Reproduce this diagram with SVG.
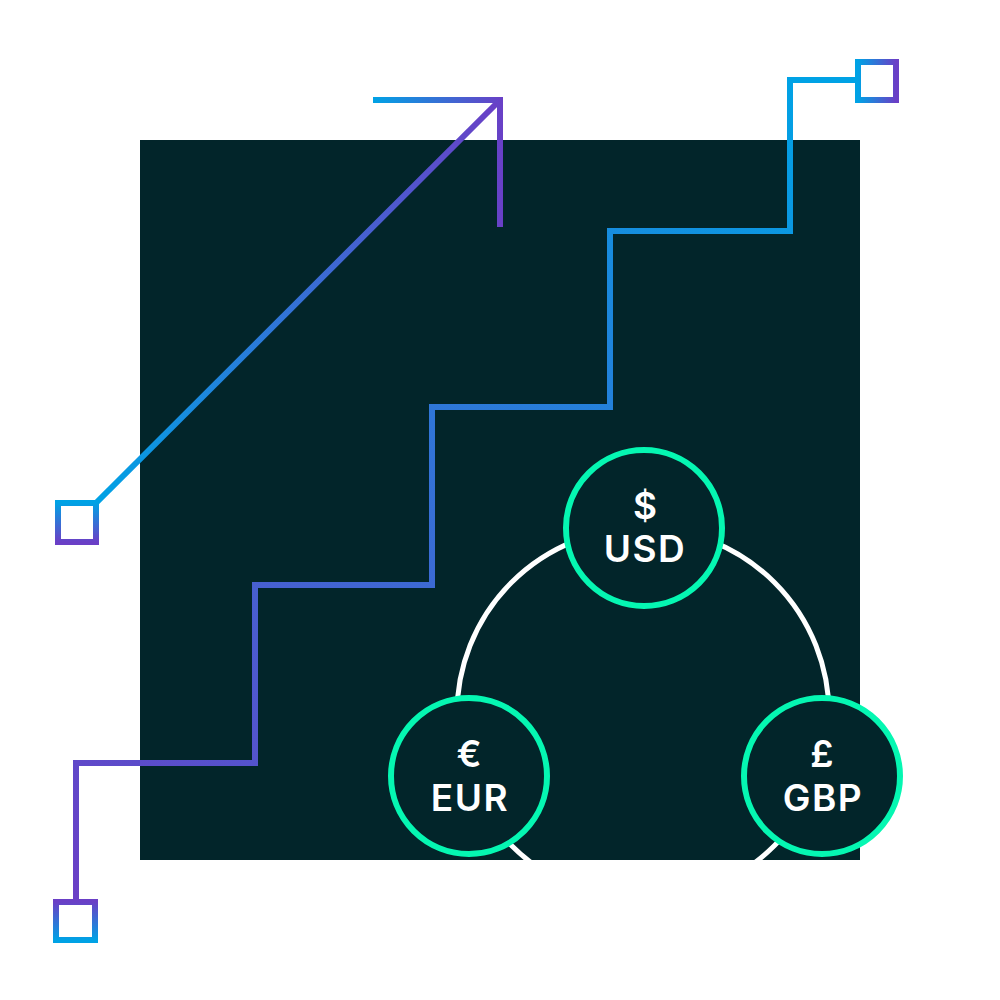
<svg xmlns="http://www.w3.org/2000/svg" width="1000" height="1000" viewBox="0 0 1000 1000">
<defs>
<style>
.ln{fill:none;stroke-width:6;stroke-linecap:butt;stroke-linejoin:miter}
.node{fill:#02252A;stroke:#05F7B2;stroke-width:6}
.t{font-family:Inter,"Noto Sans","Liberation Sans",sans-serif;font-weight:600;font-size:37px;letter-spacing:1.5px;fill:#ffffff;text-anchor:middle}
.s{font-family:Inter,"Noto Sans","Liberation Sans",sans-serif;font-weight:600;font-size:37px;fill:#ffffff;text-anchor:middle}
</style>
<linearGradient id="gDiag" gradientUnits="userSpaceOnUse" x1="97" y1="502" x2="500" y2="100">
<stop offset="0" stop-color="#00A2E5"/><stop offset="1" stop-color="#6A3FC6"/>
</linearGradient>
<linearGradient id="gHead" gradientUnits="userSpaceOnUse" x1="373" y1="0" x2="503" y2="0">
<stop offset="0" stop-color="#00A2E5"/><stop offset="1" stop-color="#6A3FC6"/>
</linearGradient>
<linearGradient id="gStair" gradientUnits="userSpaceOnUse" x1="76" y1="900" x2="790" y2="80">
<stop offset="0" stop-color="#6A3FC6"/><stop offset="1" stop-color="#00A2E5"/>
</linearGradient>
<linearGradient id="gTB" x1="0" y1="0" x2="0" y2="1">
<stop offset="0" stop-color="#00A2E5"/><stop offset="1" stop-color="#6A3FC6"/>
</linearGradient>
<linearGradient id="gBT" x1="0" y1="0" x2="0" y2="1">
<stop offset="0" stop-color="#6A3FC6"/><stop offset="1" stop-color="#00A2E5"/>
</linearGradient>
<linearGradient id="gLR" x1="0" y1="0" x2="1" y2="0">
<stop offset="0" stop-color="#00A2E5"/><stop offset="1" stop-color="#6A3FC6"/>
</linearGradient>
<clipPath id="clipBox"><rect x="140" y="140" width="720" height="720"/></clipPath>
</defs>
<rect id="panel" x="140" y="140" width="720" height="720" fill="#02252A"/>
<g id="connectors">
<circle cx="643" cy="714" r="186" fill="none" stroke="#ffffff" stroke-width="5" clip-path="url(#clipBox)"/>
<path class="ln" stroke="url(#gDiag)" d="M97,502 L500,100"/>
<path class="ln" stroke="url(#gHead)" d="M373,100 H500 V227"/>
<path class="ln" stroke="url(#gStair)" d="M76,899 V763 H255 V585 H432 V407 H610 V231 H790 V80 H856"/>
</g>
<g id="square-left"><rect x="58" y="503" width="38" height="39" fill="none" stroke="url(#gTB)" stroke-width="6"/></g>
<g id="square-bottom"><rect x="56" y="902" width="39" height="38" fill="none" stroke="url(#gBT)" stroke-width="6"/></g>
<g id="square-topright"><rect x="858" y="62" width="38" height="38" fill="none" stroke="url(#gLR)" stroke-width="6"/></g>
<g id="node-usd">
<circle class="node" cx="644" cy="528" r="78"/>
<text class="s" x="645" y="519">$</text>
<text class="t" x="645" y="562">USD</text>
</g>
<g id="node-eur">
<circle class="node" cx="469" cy="776" r="78"/>
<text class="s" x="469" y="767">€</text>
<text class="t" x="470" y="811">EUR</text>
</g>
<g id="node-gbp">
<circle class="node" cx="822" cy="776" r="78"/>
<text class="s" x="822" y="767">£</text>
<text class="t" x="823" y="811">GBP</text>
</g>
</svg>
